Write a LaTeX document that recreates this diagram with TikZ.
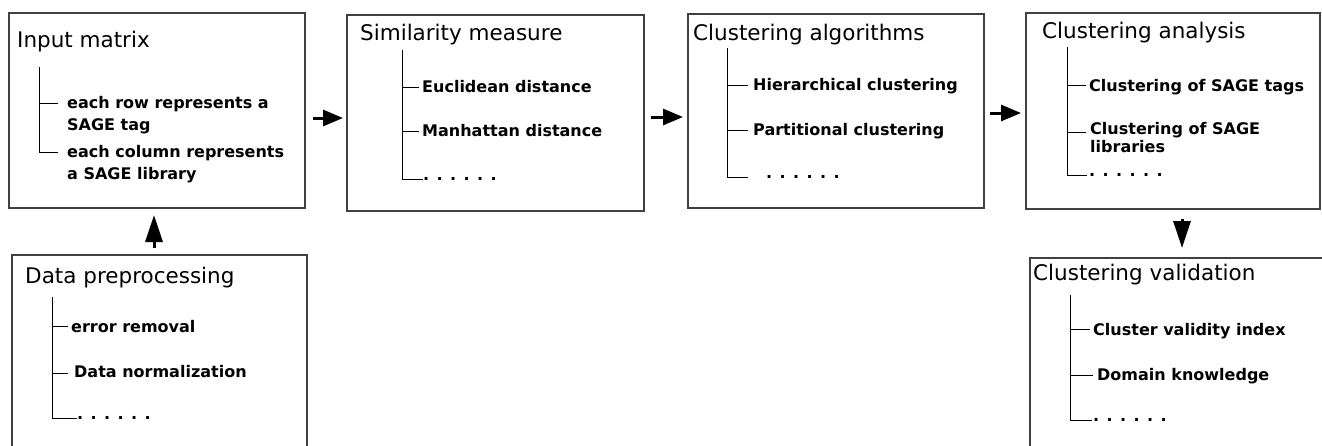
\documentclass[tikz,border=0pt]{standalone}
\usepackage{fontspec}
\setmainfont{DejaVu Sans}
\usetikzlibrary{arrows.meta}
\begin{document}
\begin{tikzpicture}[x=1pt,y=-1pt,
  box/.style={draw=black!75, line width=1.4pt, inner sep=0pt, outer sep=0pt, anchor=north west},
  ttl/.style={font=\fontsize{21.5}{26}\selectfont, inner sep=0pt, anchor=base west},
  itm/.style={font=\bfseries\fontsize{16}{22}\selectfont, inner sep=0pt, anchor=base west},
  tree/.style={line width=1pt},
  flow/.style={line width=3pt, -{Triangle[length=20pt,width=16pt]}},
  vflow/.style={line width=3pt, -{Triangle[length=27pt,width=17pt]}}]
\useasboundingbox (0,0) rectangle (1322,445);
\clip (0,0) rectangle (1322,445);

% stage boxes
\node[box, minimum width=296pt, minimum height=195pt] (in)  at (9,13)   {};
\node[box, minimum width=297pt, minimum height=196pt] (sim) at (347,15) {};
\node[box, minimum width=296pt, minimum height=194pt] (alg) at (688,14) {};
\node[box, minimum width=294pt, minimum height=196pt] (ana) at (1026,13) {};
\node[box, minimum width=295pt, minimum height=220pt] (pre) at (12,255) {};
\node[box, minimum width=320pt, minimum height=220pt] (val) at (1030,258) {};

% Input matrix
\node[ttl] (inT) at (17,47) {Input matrix};
\draw[tree] (39,67) -- (39,152) -- (58,152);
\draw[tree] (39,103) -- (58,103);
\node[itm] (in1a) at (67,108) {each row represents a};
\node[itm] (in1b) at (67,130.5) {SAGE tag};
\node[itm] (in2a) at (67,157) {each column represents};
\node[itm] (in2b) at (67,179) {a SAGE library};

% Similarity measure
\node[ttl] (simT) at (360,40) {Similarity measure};
\draw[tree] (402,50) -- (402,179) -- (423,179);
\draw[tree] (402,87) -- (419,87);
\draw[tree] (402,131) -- (419,131);
\node[itm] (sim1) at (422,92) {Euclidean distance};
\node[itm] (sim2) at (422,136) {Manhattan distance};
\node[itm] (sim3) at (423,180) {. . . . . .};

% Clustering algorithms
\node[ttl] (algT) at (693,40) {Clustering algorithms};
\draw[tree] (727,48) -- (727,177) -- (748,177);
\draw[tree] (727,85) -- (748,85);
\draw[tree] (727,130) -- (748,130);
\node[itm] (alg1) at (753,90) {Hierarchical clustering};
\node[itm] (alg2) at (753,135) {Partitional clustering};
\node[itm] (alg3) at (766,178) {. . . . . .};

% Clustering analysis
\node[ttl] (anaT) at (1042,38) {Clustering analysis};
\draw[tree] (1067,47) -- (1067,175) -- (1087,175);
\draw[tree] (1067,85) -- (1086,85);
\draw[tree] (1067,132) -- (1086,132);
\node[itm] (ana1) at (1089,91) {Clustering of SAGE tags};
\node[itm] (ana2a) at (1090,134) {Clustering of SAGE};
\node[itm] (ana2b) at (1090,152) {libraries};
\node[itm] (ana3) at (1089,176) {. . . . . .};

% Data preprocessing
\node[ttl] (preT) at (25,283) {Data preprocessing};
\draw[tree] (52,297) -- (52,418) -- (77,418);
\draw[tree] (52,326) -- (68,326);
\draw[tree] (52,373) -- (68,373);
\node[itm] (pre1) at (71,332) {error removal};
\node[itm] (pre2) at (74,377) {Data normalization};
\node[itm] (pre3) at (77,419) {. . . . . .};

% Clustering validation
\node[ttl] (valT) at (1033,280) {Clustering validation};
\draw[tree] (1070,295) -- (1070,420) -- (1092,420);
\draw[tree] (1070,329) -- (1090,329);
\draw[tree] (1070,375) -- (1093,375);
\node[itm] (val1) at (1093,335) {Cluster validity index};
\node[itm] (val2) at (1097,380) {Domain knowledge};
\node[itm] (val3) at (1093,421) {. . . . . .};

% flow between stages
\draw[flow, shorten <=8pt, shorten >=4pt] (in.east |- 0,118) -- (sim.west |- 0,118);
\draw[flow, shorten <=7pt, shorten >=5pt] (sim.east |- 0,117) -- (alg.west |- 0,117);
\draw[flow, shorten <=6pt, shorten >=5pt] (alg.east |- 0,113) -- (ana.west |- 0,113);
\draw[vflow, shorten <=7pt, shorten >=7pt] (pre.north -| 154,0) -- (in.south -| 154,0);
\draw[vflow, shorten <=10pt, shorten >=10pt] (ana.south -| 1182,0) -- (val.north -| 1182,0);
\end{tikzpicture}
\end{document}
